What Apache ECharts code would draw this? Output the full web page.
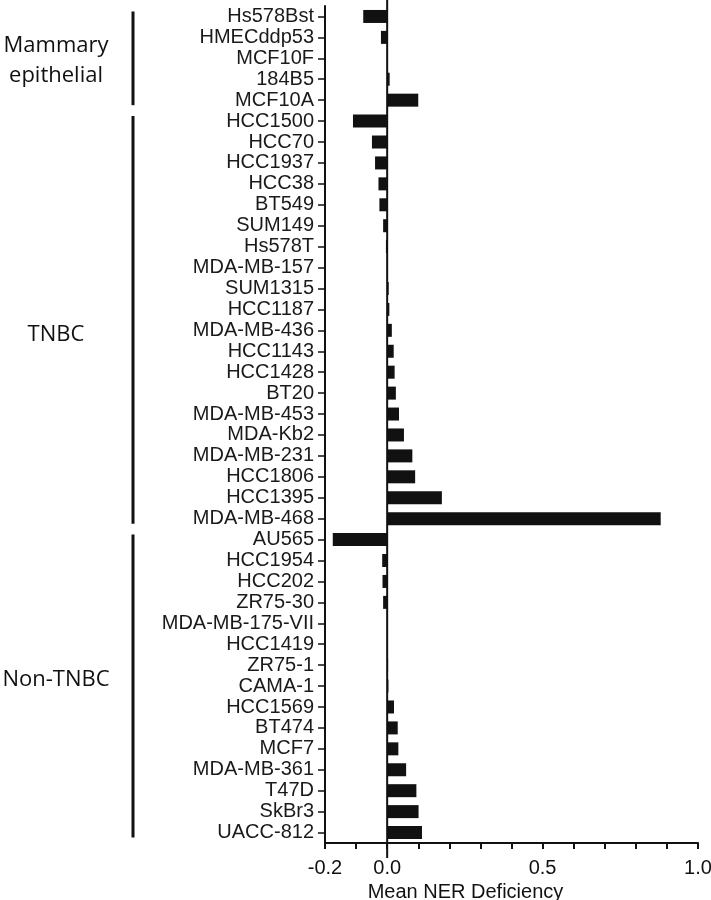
<!DOCTYPE html>
<html>
<head>
<meta charset="utf-8">
<script src="https://cdn.jsdelivr.net/npm/echarts@6/dist/echarts.min.js"></script>
<style>
	html, body { margin: 0; padding: 0; background: #fff; }
	#chart { width: 711px; height: 900px; }
</style>
</head>
<body>
<div id="chart"></div>
<script>
	// cell lines, top to bottom
	var cellLines = [
		'Hs578Bst', 'HMECddp53', 'MCF10F', '184B5', 'MCF10A',
		'HCC1500', 'HCC70', 'HCC1937', 'HCC38', 'BT549', 'SUM149', 'Hs578T', 'MDA-MB-157',
		'SUM1315', 'HCC1187', 'MDA-MB-436', 'HCC1143', 'HCC1428', 'BT20', 'MDA-MB-453',
		'MDA-Kb2', 'MDA-MB-231', 'HCC1806', 'HCC1395', 'MDA-MB-468',
		'AU565', 'HCC1954', 'HCC202', 'ZR75-30', 'MDA-MB-175-VII', 'HCC1419', 'ZR75-1',
		'CAMA-1', 'HCC1569', 'BT474', 'MCF7', 'MDA-MB-361', 'T47D', 'SkBr3', 'UACC-812'
	];
	// mean NER deficiency
	var nerValues = [
		-0.077, -0.02, 0.0, 0.008, 0.10,
		-0.11, -0.049, -0.039, -0.028, -0.025, -0.013, -0.004, 0.0,
		0.005, 0.007, 0.015, 0.021, 0.024, 0.028, 0.038,
		0.054, 0.081, 0.09, 0.176, 0.88,
		-0.175, -0.016, -0.015, -0.013, 0.0, 0.0, 0.003,
		0.004, 0.022, 0.034, 0.036, 0.061, 0.094, 0.101, 0.112
	];
	var xTickLabels = [-0.2, 0.0, 0.5, 1.0];

	// groups on the left (indexes into cellLines)
	var groupNames = ['Mammary\nepithelial', 'TNBC', 'Non-TNBC'];
	var groupFirst = [0, 5, 25];
	var groupLast = [4, 24, 39];
	var groupLabelAt = [2.1, 15.2, 31.7];

	var chart = echarts.init(document.getElementById('chart'));

	var option = {
		animation: false,
		backgroundColor: '#fff',
		grid: { left: 325, right: 13, top: 6, bottom: 57, outerBoundsMode: 'none' },
		xAxis: {
			type: 'value',
			min: -0.2,
			max: 1.0,
			interval: 0.1,
			splitLine: { show: false },
			axisLine: { show: true, lineStyle: { color: '#111', width: 2 } },
			axisTick: { show: true, length: 6, lineStyle: { color: '#111', width: 2 } },
			axisLabel: {
				margin: 15,
				color: '#111',
				fontSize: 20,
				fontFamily: 'Liberation Sans',
				formatter: function (v) {
					for (var i = 0; i < xTickLabels.length; i++) {
						if (Math.abs(v - xTickLabels[i]) < 1e-6) return xTickLabels[i].toFixed(1);
					}
					return '';
				}
			},
			name: 'Mean NER Deficiency',
			nameLocation: 'middle',
			nameGap: 33,
			nameTextStyle: {
				color: '#111',
				fontSize: 20,
				fontFamily: 'Liberation Sans',
				padding: [0, 92, 0, 0]
			}
		},
		yAxis: {
			type: 'category',
			data: cellLines,
			inverse: true,
			axisLine: { show: true, onZero: false, lineStyle: { color: '#111', width: 2 } },
			axisTick: { show: true, alignWithLabel: true, length: 7, lineStyle: { color: '#111', width: 1.5 } },
			axisLabel: {
				interval: 0,
				margin: 11,
				color: '#1a1a1a',
				fontSize: 20,
				fontFamily: 'Liberation Sans'
			},
			splitLine: { show: false }
		},
		series: [{
			type: 'bar',
			data: nerValues,
			barWidth: 13,
			itemStyle: { color: '#111' }
		}]
	};

	chart.setOption(option);

	// zero line, group brackets and group labels placed from the axes
	var x0 = chart.convertToPixel({ xAxisIndex: 0 }, 0);
	var bracketX = 133;
	var graphics = [{
		type: 'line',
		shape: { x1: x0, y1: 0, x2: x0, y2: 858 },
		style: { stroke: '#111', lineWidth: 2 }
	}];
	for (var g = 0; g < groupNames.length; g++) {
		var yTop = chart.convertToPixel({ yAxisIndex: 0 }, cellLines[groupFirst[g]]) - 5;
		var yBot = chart.convertToPixel({ yAxisIndex: 0 }, cellLines[groupLast[g]]) + 5;
		var yA = chart.convertToPixel({ yAxisIndex: 0 }, cellLines[Math.floor(groupLabelAt[g])]);
		var yB = chart.convertToPixel({ yAxisIndex: 0 }, cellLines[Math.floor(groupLabelAt[g]) + 1]);
		var yLabel = yA + (yB - yA) * (groupLabelAt[g] - Math.floor(groupLabelAt[g]));
		graphics.push({
			type: 'line',
			shape: { x1: bracketX, y1: yTop, x2: bracketX, y2: yBot },
			style: { stroke: '#111', lineWidth: 3 }
		});
		graphics.push({
			type: 'text',
			x: 56,
			y: yLabel,
			style: {
				text: groupNames[g],
				align: 'center',
				verticalAlign: 'middle',
				fontSize: 22,
				fontFamily: 'Open Sans',
				lineHeight: 30,
				fill: '#111'
			}
		});
	}
	chart.setOption({ graphic: graphics });
</script>
</body>
</html>
